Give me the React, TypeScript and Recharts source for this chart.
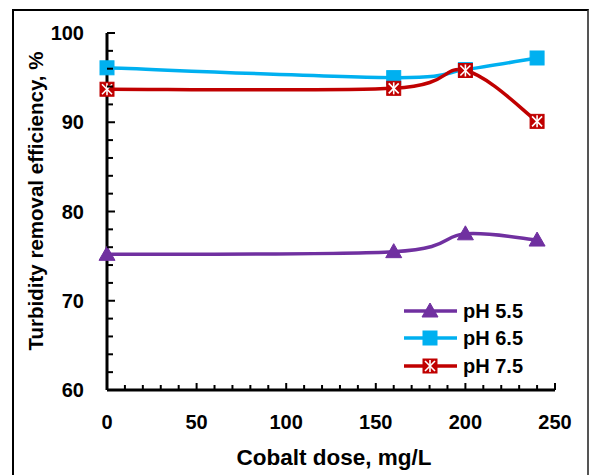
import React from "react";
import { LineChart, Line, XAxis, YAxis } from "recharts";

const doses = [0, 160, 200, 240];
const ph55 = [75.2, 75.5, 77.5, 76.8];
const ph65 = [96.1, 95.0, 95.9, 97.2];
const ph75 = [93.7, 93.8, 95.8, 90.1];
const xTicks = [0, 10, 20, 30, 40, 50, 60, 70, 80, 90, 100, 110, 120, 130, 140, 150, 160, 170, 180, 190, 200, 210, 220, 230, 240, 250];
const yTicks = [60, 62, 64, 66, 68, 70, 72, 74, 76, 78, 80, 82, 84, 86, 88, 90, 92, 94, 96, 98, 100];
const seriesNames = ["pH 5.5", "pH 6.5", "pH 7.5"];

const data = doses.map((d, i) => ({ dose: d, a: ph55[i], b: ph65[i], c: ph75[i] }));

const PURPLE = "#7030A0";
const BLUE = "#00B0F0";
const RED = "#C00000";
const FONT = "'Liberation Sans', Arial, sans-serif";

const excelCurve: any = (context: any) => {
  let pts: number[][] = [];
  return {
    areaStart() {},
    areaEnd() {},
    lineStart() {
      pts = [];
    },
    point(x: number, y: number) {
      pts.push([+x, +y]);
    },
    lineEnd() {
      if (!pts.length) return;
      context.moveTo(pts[0][0], pts[0][1]);
      for (let i = 0; i < pts.length - 1; i++) {
        const p0 = pts[i - 1] || pts[i];
        const p1 = pts[i];
        const p2 = pts[i + 1];
        const p3 = pts[i + 2] || pts[i + 1];
        const c1x = p1[0] + (p2[0] - p0[0]) / 6;
        const c1y = p1[1] + (p2[1] - p0[1]) / 6;
        const c2x = p2[0] - (p3[0] - p1[0]) / 6;
        const c2y = p2[1] - (p3[1] - p1[1]) / 6;
        context.bezierCurveTo(c1x, c1y, c2x, c2y, p2[0], p2[1]);
      }
    },
  };
};

const Triangle = ({ cx, cy }: any) => (
  <polygon points={`${cx},${cy - 8} ${cx - 8},${cy + 6} ${cx + 8},${cy + 6}`} fill={PURPLE} stroke={PURPLE} strokeWidth={1} />
);
const Square = ({ cx, cy }: any) => (
  <rect x={cx - 7} y={cy - 7} width={14} height={14} fill={BLUE} stroke={BLUE} strokeWidth={1} />
);
const Star = ({ cx, cy }: any) => (
  <g>
    <rect x={cx - 7} y={cy - 7} width={14} height={14} fill={RED} stroke={RED} strokeWidth={1} />
    <line x1={cx - 5} y1={cy - 5} x2={cx + 5} y2={cy + 5} stroke="#fff" strokeWidth={1.6} />
    <line x1={cx - 5} y1={cy + 5} x2={cx + 5} y2={cy - 5} stroke="#fff" strokeWidth={1.6} />
    <line x1={cx} y1={cy - 6} x2={cx} y2={cy + 6} stroke="#fff" strokeWidth={1.6} />
  </g>
);

const XTick = ({ x, y, payload }: any) => {
  const major = payload.value % 50 === 0;
  return (
    <g>
      <line x1={x} y1={y} x2={x} y2={y - (major ? 7 : 5)} stroke="#000" strokeWidth={2} />
      {major && (
        <text x={x} y={y + 39} textAnchor="middle" fontFamily={FONT} fontWeight="bold" fontSize={20} fill="#000">
          {payload.value}
        </text>
      )}
    </g>
  );
};

const YTick = ({ x, y, payload }: any) => {
  const major = payload.value % 10 === 0;
  return (
    <g>
      <line x1={x} y1={y} x2={x + (major ? 8 : 6)} y2={y} stroke="#000" strokeWidth={2} />
      {major && (
        <text x={x - 23} y={y + 7} textAnchor="end" fontFamily={FONT} fontWeight="bold" fontSize={20} fill="#000">
          {payload.value}
        </text>
      )}
    </g>
  );
};

const markers = [Triangle, Square, Star];
const colors = [PURPLE, BLUE, RED];
const legendY = [311, 338, 366];

export default function App() {
  return (
    <div style={{ position: "absolute", left: 0, top: 0, width: 590, height: 475, overflow: "hidden", background: "#fff" }}>
      <div style={{ position: "absolute", left: 12, top: 9, width: 573, height: 500, border: "2px solid #000", borderRightColor: "#555" }} />
      <LineChart width={590} height={475} data={data} margin={{ top: 33, right: 35, left: 0, bottom: 0 }} style={{ position: "absolute", left: 0, top: 0 }}>
        <XAxis
          dataKey="dose"
          type="number"
          domain={[0, 250]}
          ticks={xTicks}
          interval={0}
          height={85}
          axisLine={{ stroke: "#000", strokeWidth: 3 }}
          tickLine={false}
          tickSize={0}
          tickMargin={0}
          tick={<XTick />}
        />
        <XAxis xAxisId="top" orientation="top" dataKey="dose" type="number" domain={[0, 250]} height={0} tick={false} tickLine={false} axisLine={{ stroke: "#000", strokeWidth: 3 }} />
        <YAxis
          type="number"
          domain={[60, 100]}
          ticks={yTicks}
          interval={0}
          width={107}
          axisLine={{ stroke: "#000", strokeWidth: 3 }}
          tickLine={false}
          tickSize={0}
          tickMargin={0}
          tick={<YTick />}
        />
        <YAxis yAxisId="right" orientation="right" type="number" domain={[60, 100]} width={0} tick={false} tickLine={false} axisLine={{ stroke: "#000", strokeWidth: 3 }} />
        <Line dataKey="a" name={seriesNames[0]} type={excelCurve} stroke={PURPLE} strokeWidth={3.5} dot={(p: any) => <Triangle key={`a${p.index}`} cx={p.cx} cy={p.cy} />} isAnimationActive={false} />
        <Line dataKey="b" name={seriesNames[1]} type={excelCurve} stroke={BLUE} strokeWidth={3.5} dot={(p: any) => <Square key={`b${p.index}`} cx={p.cx} cy={p.cy} />} isAnimationActive={false} />
        <Line dataKey="c" name={seriesNames[2]} type={excelCurve} stroke={RED} strokeWidth={3.5} dot={(p: any) => <Star key={`c${p.index}`} cx={p.cx} cy={p.cy} />} isAnimationActive={false} />
      </LineChart>
      <svg width={590} height={475} style={{ position: "absolute", left: 0, top: 0, pointerEvents: "none" }}>
        <text x={334} y={465} textAnchor="middle" fontFamily={FONT} fontWeight="bold" fontSize={22.5} fill="#000">
          Cobalt dose, mg/L
        </text>
        <text x={43} y={201} transform="rotate(-90 43 201)" textAnchor="middle" fontFamily={FONT} fontWeight="bold" fontSize={20.5} fill="#000">
          Turbidity removal efficiency, %
        </text>
        {seriesNames.map((n, i) => {
          const M = markers[i];
          return (
            <g key={n}>
              <line x1={404} y1={legendY[i]} x2={457} y2={legendY[i]} stroke={colors[i]} strokeWidth={3.5} />
              <M cx={430} cy={legendY[i]} />
              <text x={463} y={legendY[i] + 7} fontFamily={FONT} fontWeight="bold" fontSize={20} fill="#000">
                {n}
              </text>
            </g>
          );
        })}
      </svg>
    </div>
  );
}
